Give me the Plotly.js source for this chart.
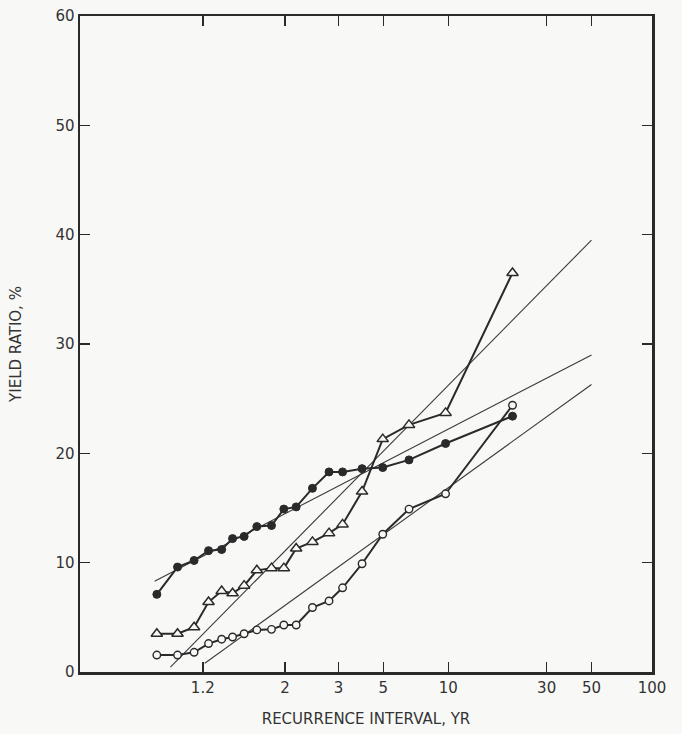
<!DOCTYPE html>
<html>
<head>
<meta charset="utf-8">
<script src="https://cdn.plot.ly/plotly-3.0.1.min.js"></script>
<style>
  html, body { margin: 0; padding: 0; background: #f8f9f7; }
  #chart { width: 682px; height: 734px; }
</style>
</head>
<body>
<div id="chart"></div>
<script>
// Recurrence intervals (yr) of the plotted points
const recurrenceYr = [1.05, 1.10, 1.16, 1.23, 1.31, 1.39, 1.49, 1.62, 1.80, 1.98,
                      2.19, 2.52, 2.93, 3.33, 4.03, 4.97, 6.54, 9.7, 20.4];
// Yield ratio, % — three series
const solidCircles = [7.1, 9.6, 10.2, 11.1, 11.2, 12.2, 12.4, 13.3, 13.4, 14.9,
                      15.1, 16.8, 18.3, 18.3, 18.6, 18.7, 19.4, 20.9, 23.4];
const openTriangles = [3.5, 3.5, 4.1, 6.4, 7.4, 7.2, 7.9, 9.3, 9.5, 9.5,
                       11.3, 11.9, 12.7, 13.5, 16.5, 21.3, 22.6, 23.7, 36.5];
const openCircles = [1.55, 1.55, 1.8, 2.6, 3.0, 3.2, 3.5, 3.85, 3.9, 4.3,
                     4.3, 5.9, 6.5, 7.7, 9.9, 12.6, 14.9, 16.3, 24.4];

// Fitted straight lines (end points, recurrence interval yr / yield ratio %)
const fitTrianglesT = [1.08, 50];   const fitTrianglesY = [0.45, 39.5];
const fitSolidT     = [1.046, 50];  const fitSolidY     = [8.3, 29.0];
const fitOpenT      = [1.21, 50];   const fitOpenY      = [0.8, 26.3];

// Axis tick labels (the "3" line sits at about 3.2 yr on the original paper)
const tickT    = [1.2, 2, 3.2, 5, 10, 30, 50, 100];
const tickText = ['1.2', '2', '3', '5', '10', '30', '50', '100'];
const yTicks   = [0, 10, 20, 30, 40, 50, 60];

// Gumbel (extreme value) probability scale: reduced variate
const gumbel = T => -Math.log(-Math.log(1 - 1 / T));
const gx = arr => arr.map(gumbel);

const ink = '#2a2a2a';
const bg = '#f8f9f7';
const fitStyle = { color: '#3a3a3a', width: 1.1 };
const connStyle = { color: ink, width: 2 };

const traces = [
  { x: gx(fitTrianglesT), y: fitTrianglesY, mode: 'lines', line: fitStyle, hoverinfo: 'skip' },
  { x: gx(fitSolidT), y: fitSolidY, mode: 'lines', line: fitStyle, hoverinfo: 'skip' },
  { x: gx(fitOpenT), y: fitOpenY, mode: 'lines', line: fitStyle, hoverinfo: 'skip' },
  { x: gx(recurrenceYr), y: solidCircles, mode: 'lines+markers', line: connStyle,
    marker: { symbol: 'circle', size: 8, color: ink, line: { color: ink, width: 1 } } },
  { x: gx(recurrenceYr), y: openTriangles, mode: 'lines+markers', line: connStyle,
    marker: { symbol: 'triangle-up', size: 10, color: bg, line: { color: ink, width: 1.5 } } },
  { x: gx(recurrenceYr), y: openCircles, mode: 'lines+markers', line: connStyle,
    marker: { symbol: 'circle', size: 7.5, color: bg, line: { color: ink, width: 1.4 } } }
];

const fam = 'DejaVu Sans, Liberation Sans, sans-serif';

const layout = {
  width: 682, height: 734,
  paper_bgcolor: bg, plot_bgcolor: bg,
  margin: { l: 80, r: 30, t: 16, b: 62 },
  showlegend: false,
  font: { family: fam, color: '#333', size: 14 },
  xaxis: {
    range: [-2.0, 4.6],
    tickvals: gx(tickT), ticktext: tickText,
    ticks: 'inside', ticklen: 10, tickwidth: 1.5, tickcolor: ink,
    showline: true, linecolor: ink, linewidth: 2.5, mirror: 'allticks',
    showgrid: false, zeroline: false,
    tickfont: { family: fam, size: 15, color: '#333' },
    title: { text: 'RECURRENCE INTERVAL, YR', standoff: 18,
             font: { family: fam, size: 15, color: '#333' } }
  },
  yaxis: {
    range: [0, 60],
    tickvals: yTicks,
    ticks: 'inside', ticklen: 10, tickwidth: 1.5, tickcolor: ink,
    showline: true, linecolor: ink, linewidth: 2.5, mirror: 'allticks',
    showgrid: false, zeroline: false,
    tickfont: { family: fam, size: 15, color: '#333' },
    title: { text: 'YIELD RATIO, %', standoff: 30,
             font: { family: fam, size: 15, color: '#333' } }
  }
};

Plotly.newPlot('chart', traces, layout, { staticPlot: true, displayModeBar: false });
</script>
</body>
</html>
